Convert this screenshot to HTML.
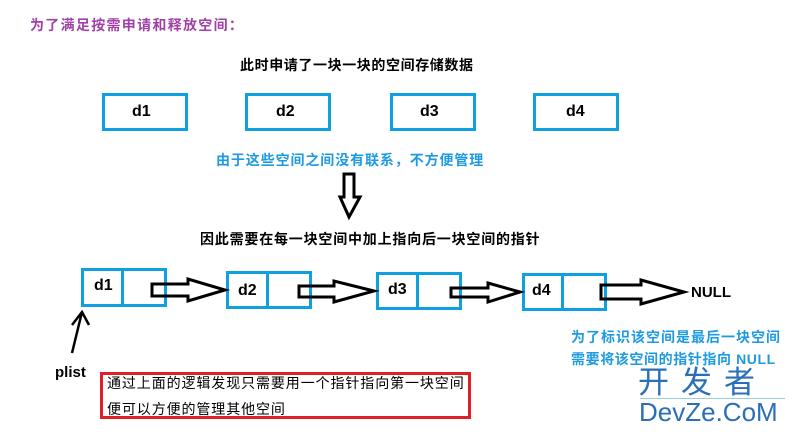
<!DOCTYPE html>
<html><head><meta charset="utf-8"><style>
body{margin:0;width:795px;height:433px;background:#fff;position:relative;overflow:hidden;font-family:"Liberation Sans","Noto Sans CJK SC",sans-serif;font-weight:bold}
.t{position:absolute;white-space:nowrap;font-size:14px;line-height:16px}
.b{position:absolute;border:3px solid #0fa0e0;box-sizing:border-box}
</style></head><body>
<div class="t" style="left:30px;top:17px;color:#a040a8;letter-spacing:1.3px">为了满足按需申请和释放空间：</div>
<div class="t" style="left:240px;top:57px;color:#000;letter-spacing:0.6px">此时申请了一块一块的空间存储数据</div>
<div class="b" style="left:102px;top:93px;width:86px;height:38px"></div>
<div class="b" style="left:245px;top:93px;width:86px;height:38px"></div>
<div class="b" style="left:390px;top:93px;width:86px;height:38px"></div>
<div class="b" style="left:533px;top:93px;width:86px;height:38px"></div>
<div class="t" style="left:132px;top:104px;font-size:16px">d1</div>
<div class="t" style="left:276px;top:104px;font-size:16px">d2</div>
<div class="t" style="left:420px;top:104px;font-size:16px">d3</div>
<div class="t" style="left:566px;top:104px;font-size:16px">d4</div>
<div class="t" style="left:216px;top:152px;color:#1e9be0;letter-spacing:0.9px">由于这些空间之间没有联系，不方便管理</div>
<div class="t" style="left:200px;top:231px;color:#000;letter-spacing:0.8px">因此需要在每一块空间中加上指向后一块空间的指针</div>

<div class="b" style="left:81px;top:268px;width:86px;height:39px"></div>
<div style="position:absolute;left:121px;top:268px;width:3px;height:39px;background:#0fa0e0"></div>
<div class="b" style="left:226px;top:271px;width:86px;height:38px"></div>
<div style="position:absolute;left:266px;top:271px;width:3px;height:38px;background:#0fa0e0"></div>
<div class="b" style="left:376px;top:272px;width:86px;height:38px"></div>
<div style="position:absolute;left:416px;top:272px;width:3px;height:38px;background:#0fa0e0"></div>
<div class="b" style="left:522px;top:273px;width:85px;height:38px"></div>
<div style="position:absolute;left:561px;top:273px;width:3px;height:38px;background:#0fa0e0"></div>
<div class="t" style="left:94px;top:278px;font-size:16px">d1</div>
<div class="t" style="left:238px;top:283px;font-size:16px">d2</div>
<div class="t" style="left:388px;top:282px;font-size:16px">d3</div>
<div class="t" style="left:532px;top:283px;font-size:16px">d4</div>
<div class="t" style="left:691px;top:285px;font-size:15px">NULL</div>

<svg width="795" height="433" style="position:absolute;left:0;top:0" fill="none" stroke="#000" stroke-width="3" stroke-linejoin="miter">
<path d="M152 284 H188 V279 L225 290 L188 301 V296 H152 Z"/>
<path d="M299 286 H334 V281 L374 291 L334 302 V297 H299 Z"/>
<path d="M451 288 H488 V283 L520 292 L488 302 V297 H451 Z"/>
<path d="M601 285 H641 V280 L684 292 L641 304 V299 H601 Z"/>
<path d="M344 174 H354 V197 H360 L349 217 L340 197 H344 Z"/>
<path d="M72 353 L82 312 M72 325 L82 312 L89 325" stroke-width="2.5"/>
</svg>
<div class="t" style="left:55px;top:365px;font-size:15px">plist</div>

<div style="position:absolute;left:100px;top:372px;width:371px;height:47px;border:3px solid #e02028;box-sizing:border-box"></div>
<div class="t" style="left:107px;top:375px;font-size:14px;font-weight:normal;letter-spacing:0.9px">通过上面的逻辑发现只需要用一个指针指向第一块空间</div>
<div class="t" style="left:107px;top:401px;font-size:14px;font-weight:normal;letter-spacing:0.9px">便可以方便的管理其他空间</div>

<div class="t" style="left:571px;top:329px;color:#1e9be0;font-size:14px;letter-spacing:1px">为了标识该空间是最后一块空间</div>
<div class="t" style="left:571px;top:351px;color:#1e9be0;font-size:14px;letter-spacing:0.6px">需要将该空间的指针指向 NULL</div>
<div class="t" style="left:638px;top:366px;color:#2a6fb8;font-size:31px;line-height:34px;font-weight:normal;letter-spacing:12px">开发者</div>
<div style="position:absolute;left:640px;top:398px;width:145px;height:1px;background:#9cd"></div>
<div class="t" style="left:639px;top:397px;color:#2a6fb8;font-size:26px;line-height:30px;font-weight:normal">DevZe.CoM</div>
</body></html>
